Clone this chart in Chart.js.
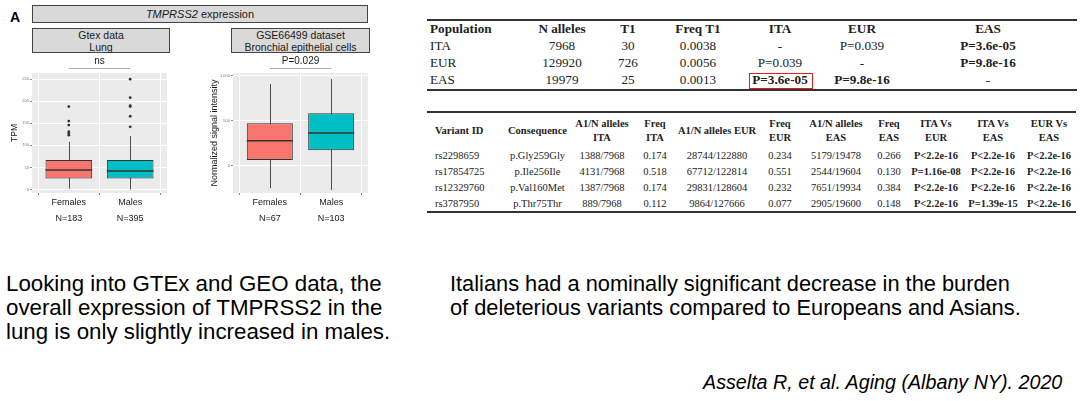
<!DOCTYPE html>
<html>
<head>
<meta charset="utf-8">
<script src="https://cdn.jsdelivr.net/npm/chart.js@4.4.0/dist/chart.umd.min.js"></script>
<style>
  body { margin: 0; width: 1080px; height: 401px; background: #fff; position: relative; overflow: hidden;
         font-family: 'Liberation Sans', Arial, sans-serif; color: #000; }
  .abs { position: absolute; }
  .strip { position: absolute; background: #d9d9d9; border: 1px solid #444; box-sizing: border-box;
           font-size: 10.5px; color: #1a1a1a; text-align: center; line-height: 12px; }
  canvas { position: absolute; }
  table { position: absolute; border-collapse: collapse; table-layout: fixed;
          font-family: 'Liberation Serif', 'Times New Roman', serif; color: #222; }
  td, th { padding: 0; text-align: center; white-space: nowrap; }
  #t1 { font-size: 13.2px; border-top: 2px solid #333; border-bottom: 2px solid #333; }
  #t1 tr { height: 17.5px; }
  #t1 tr.h { height: 17px; }
  #t1 th { font-weight: bold; }
  #t2 { font-size: 10.5px; border-top: 2px solid #333; border-bottom: 2px solid #333; }
  #t2 th { font-weight: bold; line-height: 14px; padding: 4px 0 2px; }
  #t2 tr.r { height: 16.2px; }
  b { font-weight: bold; }
  .para { position: absolute; font-size: 21.8px; line-height: 24px; }
</style>
</head>
<body>

<div class="abs" style="left:10px;top:9px;font-size:14px;font-weight:bold;">A</div>
<div class="strip" style="left:32px;top:5px;width:336px;height:18px;font-size:11px;line-height:16px;"><i>TMPRSS2</i> expression</div>
<div class="strip" style="left:32px;top:28px;width:138px;height:25px;">Gtex data<br>Lung</div>
<div class="strip" style="left:231px;top:28px;width:139px;height:25px;">GSE66499 dataset<br>Bronchial epithelial cells</div>

<canvas id="gtex" width="175" height="176" style="left:0px;top:56px;"></canvas>
<canvas id="geo" width="180" height="176" style="left:195px;top:56px;"></canvas>

<table id="t1" style="left:427px;top:19px;width:650px;">
  <colgroup>
    <col style="width:102px"><col style="width:66px"><col style="width:66px"><col style="width:74px">
    <col style="width:90px"><col style="width:74px"><col style="width:178px">
  </colgroup>
  <tr class="h"><th style="text-align:left;padding-left:3px">Population</th><th>N alleles</th><th>T1</th><th>Freq T1</th><th>ITA</th><th>EUR</th><th>EAS</th></tr>
  <tr><td style="text-align:left;padding-left:3px">ITA</td><td>7968</td><td>30</td><td>0.0038</td><td>-</td><td>P=0.039</td><td><b>P=3.6e-05</b></td></tr>
  <tr><td style="text-align:left;padding-left:3px">EUR</td><td>129920</td><td>726</td><td>0.0056</td><td>P=0.039</td><td>-</td><td><b>P=9.8e-16</b></td></tr>
  <tr><td style="text-align:left;padding-left:3px">EAS</td><td>19979</td><td>25</td><td>0.0013</td><td><b>P=3.6e-05</b></td><td><b>P=9.8e-16</b></td><td>-</td></tr>
</table>
<div class="abs" style="left:749px;top:73px;width:64px;height:16px;border:1.5px solid #e0201b;box-sizing:border-box;"></div>

<table id="t2" style="left:427px;top:111px;width:649px;">
  <colgroup>
    <col style="width:78px"><col style="width:65px"><col style="width:64px"><col style="width:42px">
    <col style="width:82px"><col style="width:44px"><col style="width:68px"><col style="width:38px">
    <col style="width:56px"><col style="width:58px"><col style="width:54px">
  </colgroup>
  <tr><th style="text-align:left;padding-left:8px">Variant ID</th><th>Consequence</th><th>A1/N alleles<br>ITA</th><th>Freq<br>ITA</th><th>A1/N alleles EUR</th><th>Freq<br>EUR</th><th>A1/N alleles<br>EAS</th><th>Freq<br>EAS</th><th>ITA Vs<br>EUR</th><th>ITA Vs<br>EAS</th><th>EUR Vs<br>EAS</th></tr>
  <tr class="r"><td style="text-align:left;padding-left:8px">rs2298659</td><td>p.Gly259Gly</td><td>1388/7968</td><td>0.174</td><td>28744/122880</td><td>0.234</td><td>5179/19478</td><td>0.266</td><td><b>P&lt;2.2e-16</b></td><td><b>P&lt;2.2e-16</b></td><td><b>P&lt;2.2e-16</b></td></tr>
  <tr class="r"><td style="text-align:left;padding-left:8px">rs17854725</td><td>p.Ile256Ile</td><td>4131/7968</td><td>0.518</td><td>67712/122814</td><td>0.551</td><td>2544/19604</td><td>0.130</td><td><b>P=1.16e-08</b></td><td><b>P&lt;2.2e-16</b></td><td><b>P&lt;2.2e-16</b></td></tr>
  <tr class="r"><td style="text-align:left;padding-left:8px">rs12329760</td><td>p.Val160Met</td><td>1387/7968</td><td>0.174</td><td>29831/128604</td><td>0.232</td><td>7651/19934</td><td>0.384</td><td><b>P&lt;2.2e-16</b></td><td><b>P&lt;2.2e-16</b></td><td><b>P&lt;2.2e-16</b></td></tr>
  <tr class="r"><td style="text-align:left;padding-left:8px">rs3787950</td><td>p.Thr75Thr</td><td>889/7968</td><td>0.112</td><td>9864/127666</td><td>0.077</td><td>2905/19600</td><td>0.148</td><td><b>P&lt;2.2e-16</b></td><td><b>P=1.39e-15</b></td><td><b>P&lt;2.2e-16</b></td></tr>
</table>

<div class="para" style="left:6px;top:272px;font-size:22.3px;">Looking into GTEx and GEO data, the<br>overall expression of TMPRSS2 in the<br>lung is only slightly increased in males.</div>
<div class="para" style="left:450px;top:272px;">Italians had a nominally significant decrease in the burden<br>of deleterious variants compared to Europeans and Asians.</div>
<div class="abs" style="left:703px;top:371px;font-size:19.7px;font-style:italic;">Asselta R, et al. Aging (Albany NY). 2020</div>

<script>
// ---- data ----
const groups = ['Females', 'Males'];
const boxColors = ['#F8766D', '#00BFC4'];

// GTEx lung, TPM
const gtexN = ['N=183', 'N=395'];
const gtexMin = [2, 0];
const gtexQ1 = [25, 25];
const gtexMed = [44, 42];
const gtexQ3 = [67, 67];
const gtexMax = [108, 121];
const gtexOutFemales = [123, 127, 131, 146, 155, 188];
const gtexOutMales = [142, 166, 188, 190, 208, 250];
const gtexTicks = [0, 50, 100, 150, 200, 250];
const gtexTest = 'ns';

// GSE66499 bronchial epithelial cells, normalized signal
const geoN = ['N=67', 'N=103'];
const geoMin = [-247, -266];
const geoQ1 = [66, 174];
const geoMed = [280, 365];
const geoQ3 = [473, 584];
const geoMax = [908, 963];
const geoTicks = [0, 500, 1000];
const geoTest = 'P=0.029';

/* ---------- box plot drawing helper ---------- */
const boxPlugin = {
  id: 'box',
  beforeDraw(chart) {
    const { ctx, chartArea: a } = chart;
    ctx.save();
    ctx.fillStyle = '#ebebeb';
    ctx.fillRect(a.left, a.top, a.right - a.left, a.bottom - a.top);
    ctx.restore();
  },
  beforeDatasetsDraw(chart, args, o) {
    const { ctx } = chart;
    const x = chart.scales.x, y = chart.scales.y;
    ctx.save();
    ctx.strokeStyle = '#4d4d4d';
    ctx.lineWidth = 1;
    o.low.forEach((lo, i) => {
      const px = Math.round(x.getPixelForValue(i + 1)) + 0.5;
      ctx.beginPath();
      ctx.moveTo(px, y.getPixelForValue(lo));
      ctx.lineTo(px, y.getPixelForValue(o.high[i]));
      ctx.stroke();
    });
    ctx.restore();
  },
  afterDatasetsDraw(chart, args, o) {
    const { ctx, chartArea: a } = chart;
    const x = chart.scales.x, y = chart.scales.y;
    const bars = chart.getDatasetMeta(0).data;
    ctx.save();
    ctx.strokeStyle = '#333';
    ctx.lineWidth = 1.5;
    o.med.forEach((m, i) => {
      const b = bars[i];
      const py = y.getPixelForValue(m);
      ctx.beginPath();
      ctx.moveTo(b.x - b.width / 2, py);
      ctx.lineTo(b.x + b.width / 2, py);
      ctx.stroke();
    });
    // significance bracket
    const x1 = x.getPixelForValue(1), x2 = x.getPixelForValue(2);
    const by = a.top - 4.5;
    ctx.strokeStyle = '#aaa';
    ctx.lineWidth = 1;
    ctx.beginPath();
    ctx.moveTo(x1, by);
    ctx.lineTo(x2, by);
    ctx.stroke();
    ctx.fillStyle = '#1a1a1a';
    ctx.font = '10px "Liberation Sans", Arial, sans-serif';
    ctx.textAlign = 'center';
    ctx.textBaseline = 'middle';
    ctx.fillText(o.test, (x1 + x2) / 2, a.top - 12);
    ctx.restore();
  }
};

function makeBox(id, cfg) {
  const datasets = [{
    type: 'bar',
    data: cfg.q1.map((q, i) => ({ x: i + 1, y: [q, cfg.q3[i]] })),
    backgroundColor: boxColors,
    borderColor: '#333',
    borderWidth: 1,
    borderSkipped: false,
    barPercentage: cfg.barPct,
    categoryPercentage: 1
  }];
  cfg.outliers.forEach((vals, i) => {
    datasets.push({
      type: 'line',
      data: vals.map(v => ({ x: i + 1, y: v })),
      showLine: false,
      pointRadius: 1.4,
      pointBackgroundColor: '#333',
      pointBorderWidth: 0
    });
  });

  return new Chart(document.getElementById(id), {
    data: { datasets },
    plugins: [boxPlugin],
    options: {
      responsive: false,
      animation: false,
      events: [],
      layout: { padding: cfg.pad },
      plugins: {
        legend: { display: false },
        tooltip: { enabled: false },
        box: { low: cfg.min, high: cfg.max, med: cfg.med, test: cfg.test }
      },
      scales: {
        x: {
          type: 'linear',
          offset: false,
          min: 0.4,
          max: 2.6,
          afterBuildTicks: ax => { ax.ticks = [1, 2].map(v => ({ value: v })); },
          afterFit: s => { s.height = cfg.xh; },
          ticks: {
            autoSkip: false,
            maxRotation: 0,
            padding: 0,
            color: '#1a1a1a',
            font: { family: "'Liberation Sans', Arial, sans-serif", size: 9, lineHeight: 1.75 },
            callback: (v, i) => [groups[i], cfg.n[i]]
          },
          grid: { color: '#ffffff', tickColor: '#888', tickLength: 2 },
          border: { display: false }
        },
        y: {
          type: 'linear',
          min: cfg.ymin,
          max: cfg.ymax,
          afterBuildTicks: ax => { ax.ticks = cfg.ticks.map(v => ({ value: v })); },
          afterFit: s => { s.width = cfg.yw; },
          ticks: {
            color: '#777',
            padding: 1,
            font: { family: "'Liberation Sans', Arial, sans-serif", size: 4 }
          },
          grid: { color: '#ffffff', tickColor: '#888', tickLength: 2 },
          border: { display: false },
          title: {
            display: true,
            text: cfg.title,
            color: '#1a1a1a',
            padding: { top: cfg.titlePad, bottom: 0 },
            font: { family: "'Liberation Sans', Arial, sans-serif", size: cfg.titleSize, weight: cfg.titleWeight }
          }
        }
      }
    }
  });
}

makeBox('gtex', {
  q1: gtexQ1, q3: gtexQ3, med: gtexMed, min: gtexMin, max: gtexMax,
  outliers: [gtexOutFemales, gtexOutMales], n: gtexN, ticks: gtexTicks, test: gtexTest,
  ymin: -8, ymax: 264, barPct: 0.76,
  pad: { top: 17, right: 8, left: 0, bottom: 0 }, xh: 39, yw: 32,
  title: 'TPM', titleSize: 8.5, titleWeight: 'normal', titlePad: 10
});

makeBox('geo', {
  q1: geoQ1, q3: geoQ3, med: geoMed, min: geoMin, max: geoMax,
  outliers: [[], []], n: geoN, ticks: geoTicks, test: geoTest,
  ymin: -300, ymax: 1030, barPct: 0.75,
  pad: { top: 17, right: 7, left: 0, bottom: 0 }, xh: 39, yw: 38,
  title: 'Normalized signal intensity', titleSize: 9, titleWeight: 'normal', titlePad: 14
});
</script>
</body>
</html>
